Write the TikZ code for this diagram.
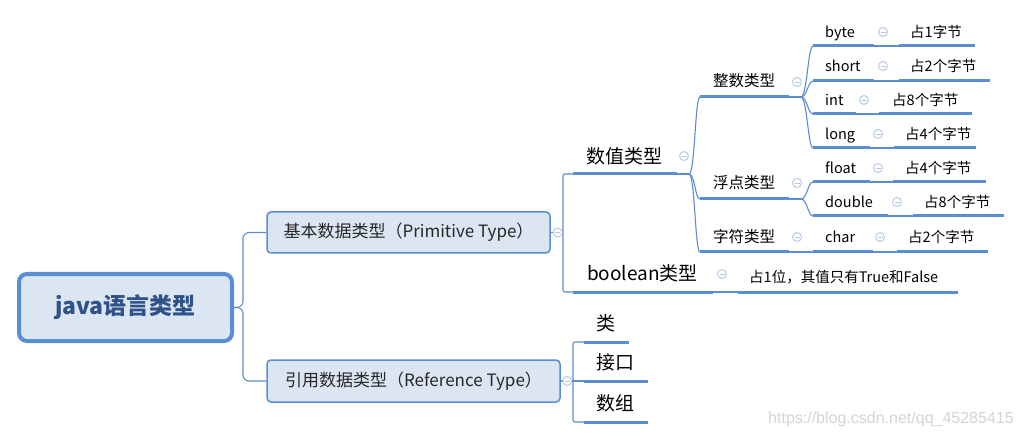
\documentclass[tikz,border=0pt]{standalone}
\usepackage{fontspec}
\setmainfont{Noto Sans CJK SC}
\newfontfamily\wmfont{Liberation Sans}
\definecolor{lineblue}{HTML}{5A8ED3}
\definecolor{boxfill}{HTML}{DCE6F2}
\definecolor{roottext}{HTML}{2F5289}
\definecolor{foldc}{HTML}{B4C6E7}
\definecolor{boxtext}{HTML}{262626}
\definecolor{wmgray}{HTML}{D4D4D4}
\tikzset{
  uline/.style={draw=lineblue, line width=3pt},
  link/.style={draw=lineblue, line width=1.1pt},
  lbl/.style={anchor=base west, inner sep=0pt, text=black},
  rootbox/.style={draw=lineblue, fill=boxfill, line width=4pt, rounded corners=8pt,
    minimum width=213pt, minimum height=67pt, inner sep=0pt, text=roottext,
    font=\fontsize{23}{23}\selectfont\bfseries},
  catbox/.style={draw=lineblue, fill=boxfill, line width=1.5pt, rounded corners=4pt,
    minimum height=41pt, inner sep=0pt, text=boxtext, font=\fontsize{17}{17}\selectfont},
  foldmark/.pic={\draw[foldc, line width=0.9pt, fill=white] (0,0) circle (4.5pt);
    \draw[foldc, line width=0.9pt] (-2.5pt,0) -- (2.5pt,0);}
}
% name, x1, x2, y
\newcommand\topic[4]{\coordinate (#1-a) at (#2,#4); \coordinate (#1-b) at (#3,#4);}
\newcommand\uline[1]{\draw[uline] (#1-a) -- (#1-b);}
% name, x, ycenter, size, text
\newcommand\txt[5]{\node[lbl, font=\fontsize{#4}{#4}\selectfont, yshift=-0.36*#4pt] (#1) at (#2,#3) {#5};}
% from junction to child start
\newcommand\fan[2]{\draw[link] (#1) .. controls ([xshift=6pt]#1) and ([xshift=-5pt]#2) .. (#2);}
\begin{document}
\begin{tikzpicture}[x=1pt,y=-1pt]
\useasboundingbox (0,0) rectangle (1022,438);
\fill[white] (0,0) rectangle (1022,438);

% ---------- topic underline coordinates ----------
\topic{numU}{573}{677}{174}
\topic{boolU}{573}{713}{292}
\topic{leiU}{584}{629}{342}
\topic{jkU}{584}{648}{381}
\topic{szU}{584}{648}{422}
\topic{zsU}{700}{789}{97}
\topic{fdU}{700}{789}{199}
\topic{zfU}{700}{789}{252}
\topic{byteU}{813}{874}{46}
\topic{shortU}{813}{874}{81}
\topic{intU}{813}{856}{114}
\topic{longU}{813}{870}{148}
\topic{floatU}{813}{870}{182}
\topic{doubleU}{813}{888}{216}
\topic{charU}{813}{873}{252}
\topic{b1U}{899}{975}{46}
\topic{s1U}{899}{990}{81}
\topic{i1U}{879}{972}{114}
\topic{l1U}{894}{976}{148}
\topic{f1U}{893}{986}{182}
\topic{d1U}{913}{1004}{216}
\topic{c1U}{897}{988}{252}
\topic{bool1U}{738}{958}{292}

% ---------- boxes ----------
\node[rootbox] (root) at (125.5,307.5) {java语言类型};
\node[catbox, minimum width=283pt] (prim) at (408.5,232.5) {基本数据类型（Primitive Type）};
\node[catbox, minimum width=293pt, minimum height=42pt] (ref) at (413.5,381) {引用数据类型（Reference Type）};

\coordinate (pj) at (563,232.5);
\coordinate (rj) at (573,381);
\coordinate (J1) at (689,174);
\coordinate (J2) at (801,97);
\coordinate (J3) at (801,199);

% ---------- connectors ----------
\draw[link, rounded corners=6pt] (root.east) -- ++(9,0) |- (prim.west);
\draw[link, rounded corners=6pt] (root.east) -- ++(9,0) |- (ref.west);
\draw[link] (prim.east) -- (pj);
\draw[link, rounded corners=2pt] (numU-a) -| (pj) |- (boolU-a);
\draw[link] (ref.east) -- (jkU-a);
\draw[link, rounded corners=2pt] (leiU-a) -| (rj) |- (szU-a);
\draw[link] (numU-b) -- (J1);
\fan{J1}{zsU-a}
\fan{J1}{fdU-a}
\fan{J1}{zfU-a}
\draw[link] (zsU-b) -- (J2);
\fan{J2}{byteU-a}
\fan{J2}{shortU-a}
\fan{J2}{intU-a}
\fan{J2}{longU-a}
\draw[link] (fdU-b) -- (J3);
\fan{J3}{floatU-a}
\fan{J3}{doubleU-a}
\draw[link] (zfU-b) -- (charU-a);
\draw[link] (byteU-b) -- (b1U-a);
\draw[link] (shortU-b) -- (s1U-a);
\draw[link] (intU-b) -- (i1U-a);
\draw[link] (longU-b) -- (l1U-a);
\draw[link] (floatU-b) -- (f1U-a);
\draw[link] (doubleU-b) -- (d1U-a);
\draw[link] (charU-b) -- (c1U-a);
\draw[link] (boolU-b) -- (bool1U-a);

% ---------- underlines ----------
\foreach \u in {numU,boolU,leiU,jkU,szU,zsU,fdU,zfU,byteU,shortU,intU,longU,floatU,doubleU,charU,b1U,s1U,i1U,l1U,f1U,d1U,c1U,bool1U}{\uline{\u}}

% ---------- fold marks ----------
\pic at ([xshift=7pt]prim.east) {foldmark};
\pic at ([xshift=6.5pt]ref.east) {foldmark};
\pic at (684,156) {foldmark};
\pic at (722,274) {foldmark};
\pic at (797,82) {foldmark};
\pic at (797,183) {foldmark};
\pic at (797,237) {foldmark};
\pic at (883,32) {foldmark};
\pic at (883,66) {foldmark};
\pic at (864,100) {foldmark};
\pic at (878,134) {foldmark};
\pic at (878,168) {foldmark};
\pic at (897,202) {foldmark};
\pic at (880,237) {foldmark};

% ---------- labels ----------
\txt{num}{586}{157}{19}{数值类型}
\txt{bool}{587}{274}{19}{boolean类型}
\txt{lei}{596}{324}{19}{类}
\txt{jk}{596}{363}{19}{接口}
\txt{sz}{596}{404}{19}{数组}
\txt{zs}{713}{81}{15.5}{整数类型}
\txt{fd}{713}{183}{15.5}{浮点类型}
\txt{zf}{713}{237}{15.5}{字符类型}
\txt{byte}{825}{32}{14.5}{byte}
\txt{short}{825}{66}{14.5}{short}
\txt{int}{825}{100}{14.5}{int}
\txt{long}{825}{134}{14.5}{long}
\txt{float}{825}{168}{14.5}{float}
\txt{double}{825}{202}{14.5}{double}
\txt{char}{825}{237}{14.5}{char}
\txt{b1}{910}{32}{14.5}{占1字节}
\txt{s1}{910}{66}{14.5}{占2个字节}
\txt{i1}{892}{100}{14.5}{占8个字节}
\txt{l1}{905}{134}{14.5}{占4个字节}
\txt{f1}{905}{168}{14.5}{占4个字节}
\txt{d1}{924}{202}{14.5}{占8个字节}
\txt{c1}{908}{237}{14.5}{占2个字节}
\txt{bool1}{749}{277}{14.5}{占1位，其值只有True和False}

\node[anchor=west, inner sep=0pt, text=wmgray, font=\wmfont\fontsize{16}{16}\selectfont] (wm) at (768,419) {https://blog.csdn.net/qq\_45285415};
\end{tikzpicture}
\end{document}
